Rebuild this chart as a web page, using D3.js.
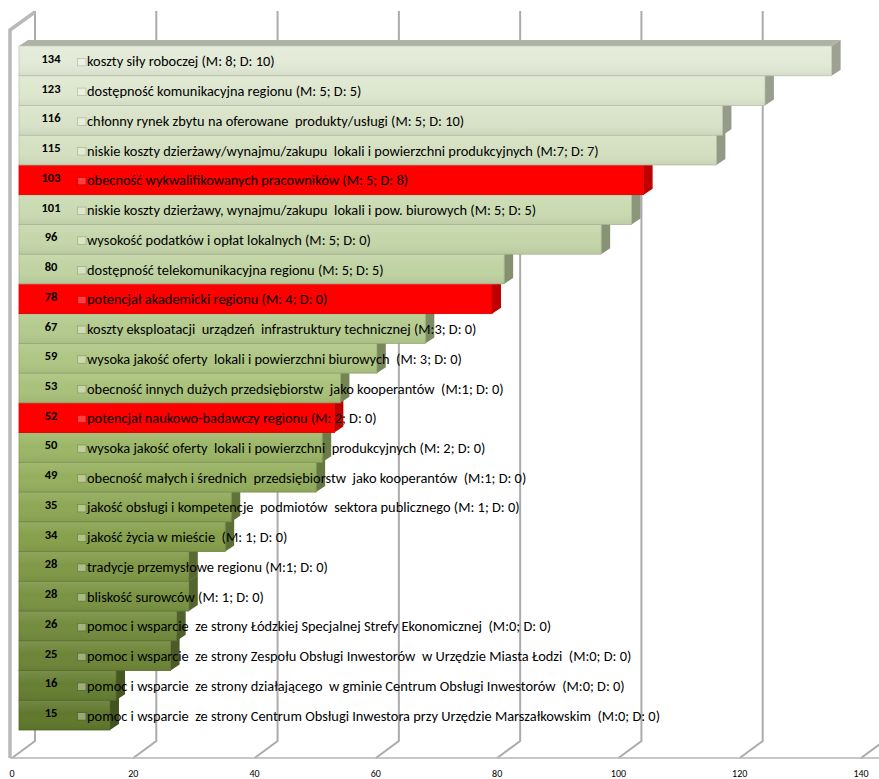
<!DOCTYPE html>
<html>
<head>
<meta charset="utf-8">
<script src="https://cdn.jsdelivr.net/npm/d3@7"></script>
<style>
  body { margin: 0; background: #fff; }
  svg { display: block; }
  text { font-family: Carlito, Lato, "Open Sans", sans-serif; fill: #000; }
  .cat { white-space: pre; }
</style>
</head>
<body>
<svg id="chart" width="879" height="779"></svg>
<script>
// Location factors ranked by number of mentions (M = most important, D = decisive)
const categories = [
  "koszty siły roboczej (M: 8; D: 10)",
  "dostępność komunikacyjna regionu (M: 5; D: 5)",
  "chłonny rynek zbytu na oferowane  produkty/usługi (M: 5; D: 10)",
  "niskie koszty dzierżawy/wynajmu/zakupu  lokali i powierzchni produkcyjnych (M:7; D: 7)",
  "obecność wykwalifikowanych pracowników (M: 5; D: 8)",
  "niskie koszty dzierżawy, wynajmu/zakupu  lokali i pow. biurowych (M: 5; D: 5)",
  "wysokość podatków i opłat lokalnych (M: 5; D: 0)",
  "dostępność telekomunikacyjna regionu (M: 5; D: 5)",
  "potencjał akademicki regionu (M: 4; D: 0)",
  "koszty eksploatacji  urządzeń  infrastruktury technicznej (M:3; D: 0)",
  "wysoka jakość oferty  lokali i powierzchni biurowych  (M: 3; D: 0)",
  "obecność innych dużych przedsiębiorstw  jako kooperantów  (M:1; D: 0)",
  "potencjał naukowo-badawczy regionu (M: 2; D: 0)",
  "wysoka jakość oferty  lokali i powierzchni  produkcyjnych (M: 2; D: 0)",
  "obecność małych i średnich  przedsiębiorstw  jako kooperantów  (M:1; D: 0)",
  "jakość obsługi i kompetencje  podmiotów  sektora publicznego (M: 1; D: 0)",
  "jakość życia w mieście  (M: 1; D: 0)",
  "tradycje przemysłowe regionu (M:1; D: 0)",
  "bliskość surowców (M: 1; D: 0)",
  "pomoc i wsparcie  ze strony Łódzkiej Specjalnej Strefy Ekonomicznej  (M:0; D: 0)",
  "pomoc i wsparcie  ze strony Zespołu Obsługi Inwestorów  w Urzędzie Miasta Łodzi  (M:0; D: 0)",
  "pomoc i wsparcie  ze strony działającego  w gminie Centrum Obsługi Inwestorów  (M:0; D: 0)",
  "pomoc i wsparcie  ze strony Centrum Obsługi Inwestora przy Urzędzie Marszałkowskim  (M:0; D: 0)"
];
const values = [134, 123, 116, 115, 103, 101, 96, 80, 78, 67, 59, 53, 52, 50, 49, 35, 34, 28, 28, 26, 25, 16, 15];
// 1 = factor shown in red
const highlight = [0, 0, 0, 0, 1, 0, 0, 0, 1, 0, 0, 0, 1, 0, 0, 0, 0, 0, 0, 0, 0, 0, 0];
const tickValues = [0, 20, 40, 60, 80, 100, 120, 140];

const data = categories.map((c, i) => ({ cat: c, value: values[i], red: !!highlight[i], i }));

const svg = d3.select("#chart");

// Oblique 3D projection: floor front edge, full depth vector, bar depth
const front = { x: 12, y: 758 };
const depth = { dx: 23, dy: -17 };
const barFrontX = 19;
const barDepth = { dx: 9, dy: -6 };
const wallTop = 11;

const x = d3.scaleLinear().domain([0, 140]).range([0, 849]);
const y = d3.scaleBand().domain(categories).range([46, 730]).paddingInner(0).paddingOuter(0);

// Green ramp from pale to olive down the ranking
const ramp = d3.scaleLinear()
  .domain([0, 7, 12, 16, 22])
  .range(["#e3ead7", "#c0d3a2", "#a3bd70", "#86a04c", "#60782d"])
  .interpolate(d3.interpolateRgb);
const faceColor = d => d.red ? "#ff0000" : ramp(d.i);

const gridColor = "#ababab";

// Back wall gridlines and floor diagonals
const grid = svg.append("g");
tickValues.forEach(t => {
  const fx = front.x + x(t);
  const bx = fx + depth.dx;
  const by = front.y + depth.dy;
  grid.append("path")
    .attr("d", `M${bx},${wallTop}L${bx},${by}L${fx},${front.y}`)
    .attr("fill", "none")
    .attr("stroke", gridColor)
    .attr("stroke-width", 2);
});

// Left wall edge
grid.append("path")
  .attr("d", `M${front.x - 2},${front.y}L${front.x - 2},30L${front.x + depth.dx},${wallTop + 1}`)
  .attr("fill", "none")
  .attr("stroke", "#b9b9b9")
  .attr("stroke-width", 3.5);

// Floor front edge
grid.append("line")
  .attr("x1", front.x - 2).attr("x2", 879)
  .attr("y1", front.y).attr("y2", front.y)
  .attr("stroke", "#b5b5b5")
  .attr("stroke-width", 1.5);

// Shading for bar fronts
const defs = svg.append("defs");
const sheen = defs.append("linearGradient").attr("id", "sheen")
  .attr("x1", 0).attr("x2", 0).attr("y1", 0).attr("y2", 1);
sheen.append("stop").attr("offset", "0%").attr("stop-color", "#fff").attr("stop-opacity", 0.12);
sheen.append("stop").attr("offset", "45%").attr("stop-color", "#fff").attr("stop-opacity", 0);
sheen.append("stop").attr("offset", "100%").attr("stop-color", "#000").attr("stop-opacity", 0.06);

// Bars, drawn bottom-up so each upper bar hides the top face of the one below
const bars = svg.append("g")
  .selectAll("g")
  .data(data.slice().reverse())
  .join("g");

bars.each(function (d) {
  const g = d3.select(this);
  const x0 = barFrontX, x1 = barFrontX + x(d.value);
  const y0 = y(d.cat), y1 = y0 + y.bandwidth();
  const c = faceColor(d);
  const dx = barDepth.dx, dy = barDepth.dy;
  // top face
  g.append("path")
    .attr("d", `M${x0},${y0}L${x0 + dx},${y0 + dy}L${x1 + dx},${y0 + dy}L${x1},${y0}Z`)
    .attr("fill", d.red ? "#d40000" : d3.color(c).darker(0.75));
  // side face
  g.append("path")
    .attr("d", `M${x1},${y0}L${x1 + dx},${y0 + dy}L${x1 + dx},${y1 + dy}L${x1},${y1}Z`)
    .attr("fill", d.red ? "#bf0000" : d3.color(c).darker(1.05));
  // front face
  g.append("rect")
    .attr("x", x0).attr("y", y0)
    .attr("width", x1 - x0).attr("height", y1 - y0)
    .attr("fill", c)
    .attr("stroke", d3.color(c).darker(0.45))
    .attr("stroke-width", 0.8);
  if (!d.red) {
    g.append("rect")
      .attr("x", x0).attr("y", y0)
      .attr("width", x1 - x0).attr("height", y1 - y0)
      .attr("fill", "url(#sheen)");
  }
});

// Data labels: value, legend key, category name
const labels = svg.append("g").selectAll("g").data(data).join("g")
  .attr("transform", d => `translate(0,${y(d.cat) + y.bandwidth() / 2})`);

labels.append("text")
  .attr("x", 51).attr("y", 2)
  .attr("text-anchor", "middle")
  .attr("font-size", 12.5)
  .attr("font-weight", "bold")
  .text(d => d.value);

labels.append("rect")
  .attr("x", 77.5).attr("y", -2.5)
  .attr("width", 8.5).attr("height", 7.5)
  .attr("fill", d => d3.interpolateRgb(faceColor(d), "#fff")(d.red ? 0.25 : 0.35))
  .attr("stroke", d => d3.color(faceColor(d)).darker(0.6))
  .attr("stroke-width", 0.7);

labels.append("text")
  .attr("class", "cat")
  .attr("x", 87).attr("y", 5.5)
  .attr("font-size", 14.4)
  .text(d => d.cat);

// Value axis tick labels along the floor front edge
svg.append("g").selectAll("text").data(tickValues).join("text")
  .attr("x", t => front.x + x(t))
  .attr("y", 777)
  .attr("text-anchor", "middle")
  .attr("font-size", 10)
  .text(t => t);
</script>
</body>
</html>
